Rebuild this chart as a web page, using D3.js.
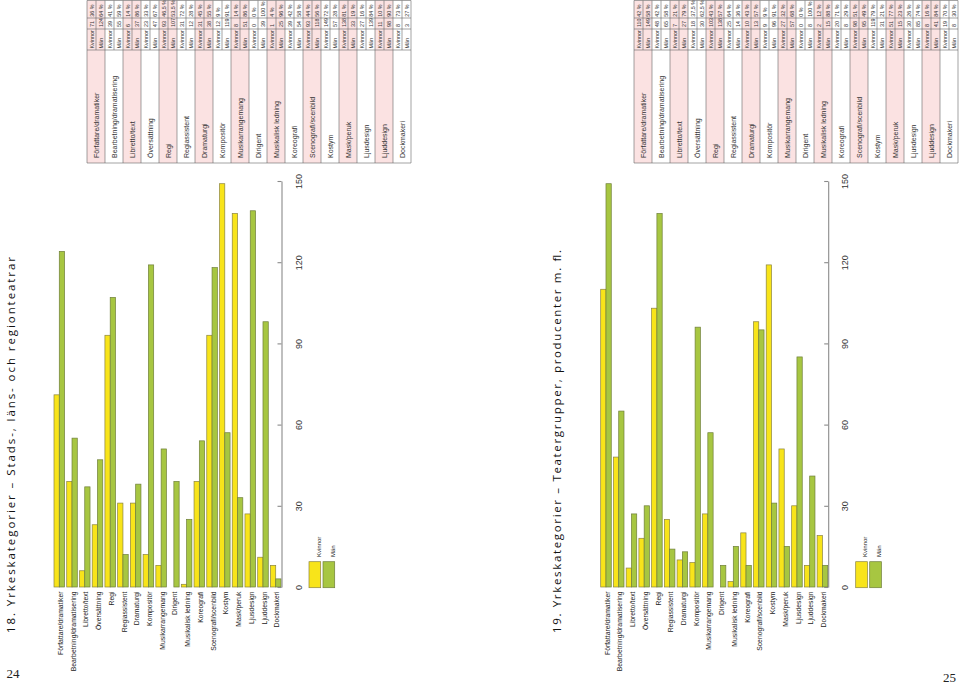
<!DOCTYPE html>
<html><head><meta charset="utf-8">
<script src="https://cdn.jsdelivr.net/npm/d3@7"></script>
<style>body{margin:0;background:#fff} svg{display:block}</style>
</head><body>
<svg id="c" width="960" height="685"></svg>
<script>
const categories = ["Författare/dramatiker","Bearbetning/dramatisering","Libretto/text","Översättning","Regi","Regiassistent","Dramaturgi","Kompositör","Musikarrangemang","Dirigent","Musikalisk ledning","Koreografi","Scenografi/scenbild","Kostym","Mask/peruk","Ljusdesign","Ljuddesign","Dockmakeri"];
const seriesNames = ["Kvinnor","Män"];
const kvinnor18 = [71,39,6,23,93,31,31,12,8,0,1,39,93,149,138,27,11,8];
const man18 = [124,55,37,47,107,12,38,119,51,39,25,54,118,57,33,139,98,3];
const kvinnorPct18 = ["36 %","41 %","14 %","33 %","46,5 %","72 %","45 %","9 %","14 %","0 %","4 %","42 %","44 %","72 %","81 %","16 %","10 %","73 %"];
const manPct18 = ["64 %","59 %","86 %","67 %","53,5 %","28 %","55 %","91 %","86 %","100 %","96 %","58 %","56 %","28 %","19 %","84 %","90 %","27 %"];
const kvinnor19 = [110,48,7,18,103,25,10,9,27,0,2,20,98,119,51,30,8,19];
const man19 = [149,65,27,30,138,14,13,96,57,8,15,8,95,31,15,85,41,8];
const kvinnorPct19 = ["42 %","42 %","21 %","37,5 %","43 %","64 %","43 %","9 %","32 %","0 %","12 %","71 %","51 %","79 %","77 %","26 %","16 %","70 %"];
const manPct19 = ["58 %","58 %","79 %","62,5 %","57 %","36 %","57 %","91 %","68 %","100 %","88 %","29 %","49 %","21 %","23 %","74 %","84 %","30 %"];
const tickValues = [0,30,60,90,120,150];
const titles = ["18. Yrkeskategorier – Stads-, läns- och regionteatrar","19. Yrkeskategorier – Teatergrupper, producenter m. fl."];
const pageNumbers = ["24","25"];

const svg = d3.select("#c");
const color = d3.scaleOrdinal().domain(seriesNames).range(["#f8e41a","#a7c641"]);
const strokeC = d3.scaleOrdinal().domain(seriesNames).range(["#8a8440","#6f7f3a"]);
const y = d3.scaleLinear().domain([0,150]).range([587,181]);
const LAB = "'Liberation Sans', Arial, sans-serif";

function drawChart(x0, kv, mn, kvP, mnP, title, titleLen, tableX0) {
  const g = svg.append("g");
  const x = d3.scaleBand().domain(categories).range([x0, x0+227]).paddingInner(0.17).paddingOuter(0);
  const xs = d3.scaleBand().domain(seriesNames).range([0, x.bandwidth()]);
  const rows = categories.map((c,i)=>({c, i, vals:[kv[i], mn[i]], pct:[kvP[i], mnP[i]]}));

  // bars
  const grp = g.append("g").selectAll("g").data(rows).join("g")
    .attr("transform", d=>`translate(${x(d.c)},0)`);
  grp.selectAll("rect").data(d=>d.vals.map((v,j)=>({s:seriesNames[j], v})).filter(e=>e.v>0)).join("rect")
    .attr("x", d=>xs(d.s)).attr("width", xs.bandwidth())
    .attr("y", d=>y(d.v)).attr("height", d=>y(0)-y(d.v))
    .attr("fill", d=>color(d.s)).attr("stroke", d=>strokeC(d.s)).attr("stroke-width",0.7);

  // axis
  const ax = g.append("g").attr("transform", `translate(${x0+227.5},0)`)
    .call(d3.axisRight(y).tickValues(tickValues).tickSizeInner(-4).tickSizeOuter(0));
  ax.attr("font-family", LAB).attr("font-size", 9);
  ax.select(".domain").attr("stroke","#8a8a8a").attr("stroke-width",1.1);
  ax.selectAll(".tick line").attr("stroke","#8a8a8a").attr("stroke-width",1.1);
  ax.selectAll(".tick text").attr("x",0).attr("dy",0).attr("fill","#333")
    .attr("text-anchor","middle").attr("transform","translate(20,0) rotate(-90)");

  // category labels
  g.append("g").selectAll("text").data(categories).join("text")
    .attr("transform", d=>`translate(${x(d)+x.bandwidth()/2+3.6},591.5) rotate(-90)`)
    .attr("text-anchor","end").attr("font-family",LAB).attr("font-size",6.8).attr("fill","#222")
    .text(d=>d);

  // legend
  const lg = g.append("g").selectAll("g").data(seriesNames).join("g")
    .attr("transform",(d,j)=>`translate(${x0+255+j*14},0)`);
  lg.append("rect").attr("x",0).attr("y",561.7).attr("width",11.7).attr("height",26)
    .attr("fill",d=>color(d)).attr("stroke",d=>strokeC(d)).attr("stroke-width",0.7);
  lg.append("text").attr("transform","translate(11.5,557) rotate(-90)")
    .attr("font-family",LAB).attr("font-size",6).attr("fill","#222").text(d=>d);

  // title
  g.append("text").attr("transform",`translate(${x0-39.5},633) rotate(-90)`)
    .attr("font-family","'Open Sans', 'DejaVu Sans', sans-serif").attr("font-size",11.5).attr("fill","#111")
    .attr("textLength", titleLen).attr("lengthAdjust","spacing").text(title);

  // table
  const bw = 18, colY = [0.5, 18, 29, 50, 163];
  const tg = g.append("g");
  const blk = tg.selectAll("g").data(rows).join("g").attr("transform", d=>`translate(${tableX0 + d.i*bw},0)`);
  blk.filter(d=>d.i%2===0).append("rect").attr("x",0).attr("y",colY[0]).attr("width",bw).attr("height",colY[4]-colY[0]).attr("fill","#fbe2e2");
  blk.append("text").attr("transform",`translate(${bw/2+2.5},158) rotate(-90)`)
    .attr("font-family",LAB).attr("font-size",7).attr("fill","#333").text(d=>d.c);
  const sub = blk.selectAll("g.sub").data(d=>[0,1].map(j=>({j, s:seriesNames[j], v:d.vals[j], p:d.pct[j]}))).join("g")
    .attr("class","sub").attr("transform", d=>`translate(${d.j*9+6.5},0)`);
  const small = 5.4;
  sub.append("text").attr("transform","translate(0,48.5) rotate(-90)").attr("font-family",LAB).attr("font-size",small).attr("fill","#333").text(d=>d.s);
  sub.append("text").attr("transform","translate(0,27) rotate(-90)").attr("font-family",LAB).attr("font-size",small).attr("fill","#333").text(d=>d.v);
  sub.append("text").attr("transform","translate(0,16.8) rotate(-90)").attr("font-family",LAB).attr("font-size",small).attr("fill","#333").text(d=>d.p);
  // grid lines
  const lines = tg.append("g").attr("stroke","#666").attr("stroke-width",0.6);
  d3.range(categories.length+1).forEach(i=>{
    lines.append("line").attr("x1",tableX0+i*bw).attr("x2",tableX0+i*bw).attr("y1",colY[0]).attr("y2",colY[4]);
  });
  d3.range(categories.length).forEach(i=>{
    lines.append("line").attr("x1",tableX0+i*bw+9).attr("x2",tableX0+i*bw+9).attr("y1",colY[0]).attr("y2",colY[3]);
  });
  colY.forEach(cy=>{
    lines.append("line").attr("x1",tableX0).attr("x2",tableX0+categories.length*bw).attr("y1",cy).attr("y2",cy);
  });
}

drawChart(54, kvinnor18, man18, kvinnorPct18, manPct18, titles[0], 376, 87);
drawChart(600.7, kvinnor19, man19, kvinnorPct19, manPct19, titles[1], 383, 634);

svg.append("g").selectAll("text").data(pageNumbers).join("text")
  .attr("x",(d,i)=>i===0?6.5:943).attr("y",(d,i)=>i===0?677.5:682)
  .attr("font-family","'Liberation Serif', 'Times New Roman', serif").attr("font-size",13).attr("fill","#222")
  .text(d=>d);
</script>
</body></html>
